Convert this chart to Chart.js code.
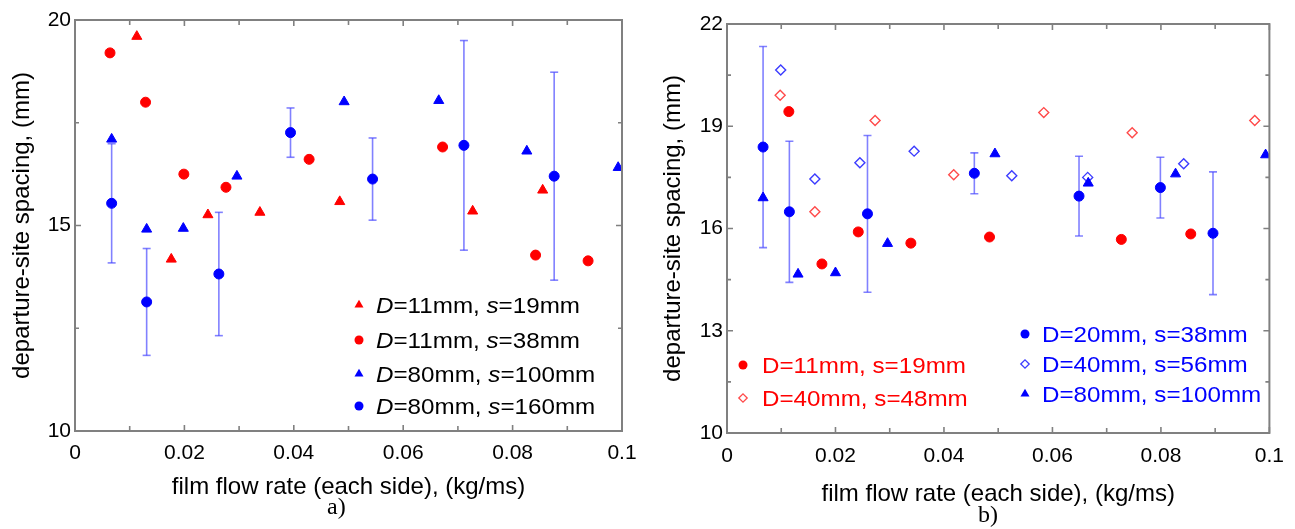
<!DOCTYPE html>
<html><head><meta charset="utf-8">
<script src="https://cdn.jsdelivr.net/npm/chart.js@4.4.0/dist/chart.umd.min.js"></script>
<style>
html,body{margin:0;padding:0;background:#fff;width:1295px;height:529px;overflow:hidden}
#c1{position:absolute;left:0;top:0}
#c2{position:absolute;left:647px;top:0}
.cap{position:absolute;font-family:"Liberation Serif","Times New Roman",serif;font-size:24px;color:#000;line-height:normal}
</style></head><body>
<canvas id="c1" width="647" height="529"></canvas>
<canvas id="c2" width="648" height="529"></canvas>
<div class="cap" style="left:327px;top:493px">a)</div>
<div class="cap" style="left:978px;top:501px">b)</div>
<script>
// ---------- Panel a) data ----------
const aTriRedX  = [0.0113, 0.0176, 0.0243, 0.0338, 0.0484, 0.0727, 0.0855];
const aTriRedY  = [19.6, 14.18, 15.26, 15.32, 15.58, 15.35, 15.86];
const aCircRedX = [0.0064, 0.0129, 0.0199, 0.0276, 0.0428, 0.0672, 0.0842, 0.0938];
const aCircRedY = [19.2, 18.0, 16.25, 15.93, 16.61, 16.91, 14.28, 14.14];
const aTriBlueX = [0.0067, 0.0131, 0.0198, 0.0296, 0.0492, 0.0665, 0.0826, 0.0993];
const aTriBlueY = [17.1, 14.91, 14.93, 16.2, 18.01, 18.04, 16.81, 16.41];
const aCircBlueX = [0.0067, 0.0131, 0.0263, 0.0394, 0.0544, 0.0711, 0.0876];
const aCircBlueY = [15.54, 13.14, 13.82, 17.26, 16.13, 16.95, 16.2];
const aCircBlueErr = [1.45, 1.3, 1.5, 0.6, 1.0, 2.55, 2.53];
const aLegend = ['D=11mm, s=19mm', 'D=11mm, s=38mm', 'D=80mm, s=100mm', 'D=80mm, s=160mm'];
const aXTicks = [0, 0.02, 0.04, 0.06, 0.08, 0.1];
const aXTickLabels = ['0', '0.02', '0.04', '0.06', '0.08', '0.1'];
const aXMinor = [0.01, 0.03, 0.05, 0.07, 0.09];
const aYTicks = [10, 15, 20];
const aYTickLabels = ['10', '15', '20'];
const aYMinor = [12.5, 17.5];

// ---------- Panel b) data ----------
const bCircRedX = [0.0114, 0.0175, 0.0242, 0.0339, 0.0484, 0.0727, 0.0855];
const bCircRedY = [19.43, 14.96, 15.9, 15.57, 15.75, 15.68, 15.84];
const bDiaRedX = [0.0098, 0.0162, 0.0273, 0.0418, 0.0584, 0.0747, 0.0973];
const bDiaRedY = [19.91, 16.49, 19.17, 17.58, 19.4, 18.81, 19.17];
const bCircBlueX = [0.00665, 0.0115, 0.0259, 0.0456, 0.0649, 0.0799, 0.0896];
const bCircBlueY = [18.39, 16.49, 16.43, 17.62, 16.95, 17.2, 15.86];
const bCircBlueErr = [2.95, 2.07, 2.3, 0.6, 1.17, 0.89, 1.8];
const bDiaBlueX = [0.0099, 0.0162, 0.0245, 0.0345, 0.0525, 0.0665, 0.0842];
const bDiaBlueY = [20.65, 17.45, 17.93, 18.27, 17.55, 17.5, 17.9];
const bTriBlueX = [0.00665, 0.0131, 0.02, 0.0296, 0.0494, 0.0666, 0.0827, 0.0993];
const bTriBlueY = [16.9, 14.66, 14.7, 15.56, 18.19, 17.33, 17.6, 18.16];
const bLegendRed = ['D=11mm, s=19mm', 'D=40mm, s=48mm'];
const bLegendBlue = ['D=20mm, s=38mm', 'D=40mm, s=56mm', 'D=80mm, s=100mm'];
const bXTicks = [0, 0.02, 0.04, 0.06, 0.08, 0.1];
const bXTickLabels = ['0', '0.02', '0.04', '0.06', '0.08', '0.1'];
const bXMinor = [0.01, 0.03, 0.05, 0.07, 0.09];
const bYTicks = [10, 13, 16, 19, 22];
const bYTickLabels = ['10', '13', '16', '19', '22'];
const bYMinor = [11.5, 14.5, 17.5, 20.5];

const FONT = '"Liberation Sans", Arial, Helvetica, sans-serif';
const RED = '#ff0000', BLUE = '#0000ff';
const ERR = 'rgba(70,70,255,0.68)';

function zip(xs, ys) { return xs.map((x, i) => ({x: x, y: ys[i]})); }
function errData(xs, ys, es) {
  const out = [];
  xs.forEach((x, i) => {
    out.push({x: x, y: ys[i] - es[i]});
    out.push({x: x, y: ys[i] + es[i]});
    out.push({x: x, y: NaN});
  });
  return out;
}

const framePlugin = {
  id: 'frame',
  afterDatasetsDraw(chart, args, o) {
    const {ctx, chartArea: a} = chart;
    const xs = chart.scales.x, ys = chart.scales.y;
    ctx.save();
    ctx.strokeStyle = '#808080';
    ctx.lineWidth = 1.6;
    ctx.beginPath();
    const tx = (v, len) => {
      const p = xs.getPixelForValue(v);
      ctx.moveTo(p, a.bottom); ctx.lineTo(p, a.bottom - len);
      ctx.moveTo(p, a.top); ctx.lineTo(p, a.top + len);
    };
    const ty = (v, len) => {
      const p = ys.getPixelForValue(v);
      ctx.moveTo(a.left, p); ctx.lineTo(a.left + len, p);
      ctx.moveTo(a.right, p); ctx.lineTo(a.right - len, p);
    };
    o.xTicks.forEach(v => tx(v, 6));
    o.xMinor.forEach(v => tx(v, 5));
    o.yTicks.forEach(v => ty(v, 6));
    o.yMinor.forEach(v => ty(v, 4));
    ctx.stroke();
    ctx.lineWidth = 2;
    ctx.strokeRect(a.left, a.top, a.right - a.left, a.bottom - a.top);
    ctx.restore();
  }
};

function drawMarker(ctx, m, x, y, color) {
  ctx.save();
  ctx.fillStyle = color; ctx.strokeStyle = color; ctx.lineWidth = 1.3;
  ctx.beginPath();
  if (m === 'circle') { ctx.arc(x, y, 4.5, 0, Math.PI * 2); ctx.fill(); }
  else if (m === 'triangle') {
    const r = 5.2;
    ctx.moveTo(x, y - r); ctx.lineTo(x + r * 0.866, y + r / 2); ctx.lineTo(x - r * 0.866, y + r / 2); ctx.closePath(); ctx.fill();
  } else if (m === 'diamond') {
    const r = 4.2;
    ctx.moveTo(x - r, y); ctx.lineTo(x, y - r); ctx.lineTo(x + r, y); ctx.lineTo(x, y + r); ctx.closePath(); ctx.stroke();
  }
  ctx.restore();
}

const legendPlugin = {
  id: 'customLegend',
  afterDraw(chart, args, o) {
    const ctx = chart.ctx;
    o.items.forEach(it => {
      drawMarker(ctx, it.marker, it.mx, it.y, it.mcolor);
      ctx.save();
      ctx.translate(it.tx, it.y + 8);
      ctx.scale(1.1, 1);
      ctx.fillStyle = it.tcolor;
      ctx.textBaseline = 'alphabetic';
      let x = 0;
      const parts = o.italic ? it.text.split(/(D|s(?==))/).filter(s => s.length) : [it.text];
      parts.forEach(p => {
        const ital = o.italic && (p === 'D' || p === 's');
        ctx.font = (ital ? 'italic ' : '') + '22px ' + FONT;
        ctx.fillText(p, x, 0);
        x += ctx.measureText(p).width;
      });
      ctx.restore();
    });
  }
};

function makeOpts(cfg) {
  return {
    responsive: false,
    animation: false,
    events: [],
    layout: {padding: {left: 0, top: cfg.top, right: cfg.right, bottom: 0}},
    plugins: {
      legend: {display: false},
      tooltip: {enabled: false},
      frame: {xTicks: cfg.xTicks, xMinor: cfg.xMinor, yTicks: cfg.yTicks, yMinor: cfg.yMinor},
      customLegend: {items: cfg.legend, italic: cfg.italic}
    },
    scales: {
      x: {
        type: 'linear', min: 0, max: 0.1,
        afterBuildTicks: s => { s.ticks = cfg.xTicks.map(v => ({value: v})); },
        afterFit: s => { s.height = cfg.xh; },
        ticks: {callback: (v, i) => cfg.xLabels[i], font: {family: FONT, size: 21}, color: '#000', padding: cfg.xpad, maxRotation: 0, autoSkip: false},
        grid: {display: false, drawTicks: false},
        border: {display: false},
        title: {display: true, text: 'film flow rate (each side), (kg/ms)', font: {family: FONT, size: 24}, color: '#000', padding: {top: 0, bottom: cfg.xtpad}}
      },
      y: {
        type: 'linear', min: cfg.ymin, max: cfg.ymax,
        afterBuildTicks: s => { s.ticks = cfg.yTicks.map(v => ({value: v})); },
        afterFit: s => { s.width = cfg.yw; },
        ticks: {callback: (v, i) => cfg.yLabels[i], font: {family: FONT, size: 21}, color: '#000', padding: 4, autoSkip: false},
        grid: {display: false, drawTicks: false},
        border: {display: false},
        title: {display: true, text: 'departure-site spacing, (mm)', font: {family: FONT, size: 24}, color: '#000', padding: {top: cfg.ytpad, bottom: 0}}
      }
    }
  };
}

// ---------- Chart a) ----------
new Chart(document.getElementById('c1'), {
  type: 'scatter',
  data: {datasets: [
    {label: aLegend[0], data: zip(aTriRedX, aTriRedY), pointStyle: 'triangle', pointRadius: 5.8, backgroundColor: RED, borderColor: RED, borderWidth: 1},
    {label: aLegend[1], data: zip(aCircRedX, aCircRedY), pointStyle: 'circle', pointRadius: 5, backgroundColor: RED, borderColor: RED, borderWidth: 1},
    {label: aLegend[2], data: zip(aTriBlueX, aTriBlueY), pointStyle: 'triangle', pointRadius: 5.8, backgroundColor: BLUE, borderColor: BLUE, borderWidth: 1},
    {label: aLegend[3], data: zip(aCircBlueX, aCircBlueY), pointStyle: 'circle', pointRadius: 5, backgroundColor: BLUE, borderColor: BLUE, borderWidth: 1},
    {label: 'error', data: errData(aCircBlueX, aCircBlueY, aCircBlueErr), showLine: true, spanGaps: false, borderColor: ERR, borderWidth: 1.6, pointStyle: 'line', pointRadius: 4, pointBorderColor: ERR, pointBorderWidth: 1.6, pointBackgroundColor: ERR}
  ]},
  options: makeOpts({
    top: 20, right: 25, xh: 98, yw: 75, xpad: 10, xtpad: 27, ytpad: 8, ymin: 10, ymax: 20,
    xTicks: aXTicks, xLabels: aXTickLabels, xMinor: aXMinor, yTicks: aYTicks, yLabels: aYTickLabels, yMinor: aYMinor,
    italic: true,
    legend: [
      {marker: 'triangle', mx: 359, tx: 376, y: 305, mcolor: RED, tcolor: '#000', text: aLegend[0]},
      {marker: 'circle', mx: 359, tx: 376, y: 340, mcolor: RED, tcolor: '#000', text: aLegend[1]},
      {marker: 'triangle', mx: 359, tx: 376, y: 374, mcolor: BLUE, tcolor: '#000', text: aLegend[2]},
      {marker: 'circle', mx: 359, tx: 376, y: 406, mcolor: BLUE, tcolor: '#000', text: aLegend[3]}
    ]
  }),
  plugins: [framePlugin, legendPlugin]
});

// ---------- Chart b) ----------
new Chart(document.getElementById('c2'), {
  type: 'scatter',
  data: {datasets: [
    {label: bLegendRed[0], data: zip(bCircRedX, bCircRedY), pointStyle: 'circle', pointRadius: 5, backgroundColor: RED, borderColor: RED, borderWidth: 1},
    {label: bLegendBlue[0], data: zip(bCircBlueX, bCircBlueY), pointStyle: 'circle', pointRadius: 5, backgroundColor: BLUE, borderColor: BLUE, borderWidth: 1},
    {label: bLegendBlue[2], data: zip(bTriBlueX, bTriBlueY), pointStyle: 'triangle', pointRadius: 5.8, backgroundColor: BLUE, borderColor: BLUE, borderWidth: 1},
    {label: bLegendRed[1], data: zip(bDiaRedX, bDiaRedY), pointStyle: 'rectRot', pointRadius: 5, backgroundColor: 'rgba(255,255,255,0)', borderColor: '#ff4a4a', borderWidth: 1.4},
    {label: bLegendBlue[1], data: zip(bDiaBlueX, bDiaBlueY), pointStyle: 'rectRot', pointRadius: 5, backgroundColor: 'rgba(255,255,255,0)', borderColor: '#3c3cff', borderWidth: 1.4},
    {label: 'error', data: errData(bCircBlueX, bCircBlueY, bCircBlueErr), showLine: true, spanGaps: false, borderColor: ERR, borderWidth: 1.6, pointStyle: 'line', pointRadius: 4, pointBorderColor: ERR, pointBorderWidth: 1.6, pointBackgroundColor: ERR}
  ]},
  options: makeOpts({
    top: 24, right: 22, xh: 96, yw: 80, xpad: 11, xtpad: 20, ytpad: 12, ymin: 10, ymax: 22,
    xTicks: bXTicks, xLabels: bXTickLabels, xMinor: bXMinor, yTicks: bYTicks, yLabels: bYTickLabels, yMinor: bYMinor,
    italic: false,
    legend: [
      {marker: 'circle', mx: 96, tx: 115, y: 365, mcolor: RED, tcolor: RED, text: bLegendRed[0]},
      {marker: 'diamond', mx: 96, tx: 115, y: 398, mcolor: '#ff4a4a', tcolor: RED, text: bLegendRed[1]},
      {marker: 'circle', mx: 378, tx: 395, y: 334, mcolor: BLUE, tcolor: BLUE, text: bLegendBlue[0]},
      {marker: 'diamond', mx: 378, tx: 395, y: 364, mcolor: '#3c3cff', tcolor: BLUE, text: bLegendBlue[1]},
      {marker: 'triangle', mx: 378, tx: 395, y: 394, mcolor: BLUE, tcolor: BLUE, text: bLegendBlue[2]}
    ]
  }),
  plugins: [framePlugin, legendPlugin]
});
</script>
</body></html>
